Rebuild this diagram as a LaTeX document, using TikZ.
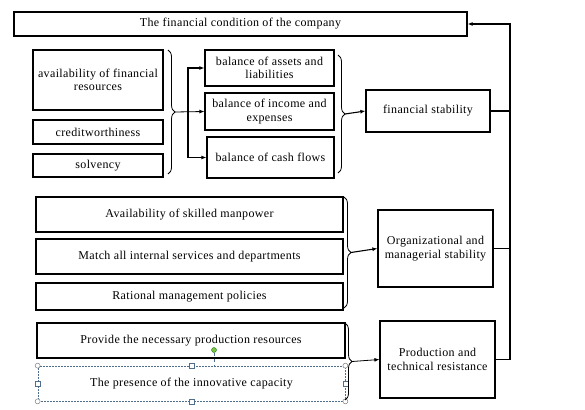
\documentclass[tikz,border=0pt]{standalone}
\usepackage{fontspec}
\setmainfont{Liberation Serif}[LetterSpace=3]
\usetikzlibrary{positioning,arrows.meta,decorations.pathreplacing,calc}
\definecolor{selblue}{HTML}{4F6E8E}
\definecolor{handlegreen}{HTML}{7CC242}
\tikzset{
  box/.style={draw,line width=1.2pt,align=center,inner sep=0.5pt,font=\fontsize{12}{13.5}\selectfont},
  selbox/.style={box,draw=selblue,line width=0.7pt,dash pattern=on 2pt off 1pt},
  edge/.style={-{Latex[length=5pt,width=4pt]},line width=1.1pt},
  rbrace/.style={decorate,decoration={brace,amplitude=7pt},line width=0.8pt},
  hcorner/.style={circle,draw=gray,fill=white,line width=0.5pt,minimum size=5pt,inner sep=0pt},
  hside/.style={rectangle,draw=selblue,fill=white,line width=0.5pt,minimum size=5pt,inner sep=0pt},
}
\begin{document}
\begin{tikzpicture}[x=1pt,y=-1pt]
  \useasboundingbox (0,0) rectangle (585,409);
  % ---- top ----
  \node[box,minimum width=453pt,minimum height=24pt] (title) at (240.5,24) {The financial condition of the company};
  % ---- financial group ----
  \node[box,minimum width=130pt,minimum height=60pt] (avail) at (98,80) {availability of financial\\resources};
  \node[box,minimum width=130pt,minimum height=24pt] (credit) at (98,132) {creditworthiness};
  \node[box,minimum width=130pt,minimum height=23pt] (solv) at (98,165.5) {solvency};
  \node[box,minimum width=129pt,minimum height=36pt] (bAL) at (269.5,68) {balance of assets and\\liabilities};
  \node[box,minimum width=129pt,minimum height=37pt] (bIE) at (269.5,111.5) {balance of income and\\expenses};
  \node[box,minimum width=127pt,minimum height=41pt] (bCF) at (270.5,157.5) {balance of cash flows};
  \node[box,minimum width=124pt,minimum height=42pt] (fin) at (428,111) {financial stability};
  % ---- organizational group ----
  \node[box,minimum width=307pt,minimum height=35pt] (skill) at (189.5,214.5) {Availability of skilled manpower};
  \node[box,minimum width=307pt,minimum height=35pt] (match) at (189.5,256.5) {Match all internal services and departments};
  \node[box,minimum width=307pt,minimum height=27pt] (ratio) at (189.5,296.5) {Rational management policies};
  \node[box,minimum width=115pt,minimum height=77pt] (org) at (435.5,248.5) {Organizational and\\managerial stability};
  % ---- production group ----
  \node[box,minimum width=308pt,minimum height=35pt] (prov) at (191,340.5) {Provide the necessary production resources};
  \node[selbox,minimum width=307pt,minimum height=35pt] (innov) at (191.5,383.5) {The presence of the innovative capacity};
  \node[box,minimum width=115pt,minimum height=77pt] (prod) at (437.5,359.5) {Production and\\technical resistance};
  % ---- selection handles ----
  \foreach \a in {north west,north east,south west,south east}
    \node[hcorner] at (innov.\a) {};
  \foreach \a in {north,south,west,east}
    \node[hside] at (innov.\a) {};
  \node[circle,fill=handlegreen,draw=green!40!black,line width=0.3pt,minimum size=5pt,inner sep=0pt] (rot) at (214,350) {};
  \draw[selblue,line width=0.5pt,dashed] (rot) -- (innov.north -| rot);
  % ---- braces ----
  \draw[rbrace] (168,50) -- coordinate[xshift=7pt] (tipA) (168,174);
  \draw[rbrace] (338,55) -- coordinate[xshift=7pt] (tipB) (338,173);
  \draw[rbrace] (344,197) -- coordinate[xshift=7pt] (tipC) (344,308);
  \draw[rbrace] (345,323) -- coordinate[xshift=7pt] (tipD) (345,400);
  % ---- edges ----
  \coordinate (junc) at (188,112);
  \coordinate (rail) at (510,24);
  \draw[edge,line width=0.8pt] (tipA) -- (bIE.west);
  \draw[edge] (junc) |- (bAL.west);
  \draw[edge] (junc) |- (bCF.west);
  \draw[edge] (tipB) -- (fin.west);
  \draw[edge] (tipC) -- (org.west);
  \draw[edge,line width=0.8pt] (tipD) -- (prod.west);
  \draw[edge] (prod.east) -| (rail) -- (title.east);
  \draw[line width=1.1pt] (fin.east) -- (fin.east -| rail);
  \draw[line width=0.6pt] (org.east) -- (org.east -| rail);
\end{tikzpicture}
\end{document}
